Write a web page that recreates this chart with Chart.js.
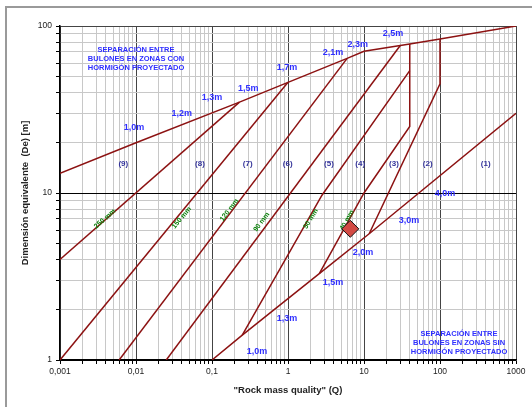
<!DOCTYPE html>
<html lang="es">
<head>
<meta charset="UTF-8">
<title>Sostenimiento - sistema Q</title>
<script src="https://cdn.jsdelivr.net/npm/chart.js"></script>
<style>
  html, body { margin: 0; padding: 0; background: #fff; }
  canvas { display: block; }
</style>
</head>
<body>
<canvas id="qChart" width="532" height="407"></canvas>
<script>
// axis ticks
const xDecades = [0.001, 0.01, 0.1, 1, 10, 100, 1000];
const xTickLabels = ['0,001', '0,01', '0,1', '1', '10', '100', '1000'];
const yDecades = [1, 10, 100];
const yTickLabels = ['1', '10', '100'];

// bolt spacing line, areas with shotcrete
const upperQ = [0.001, 0.01, 0.23, 1, 6, 10, 40, 100, 1000];
const upperDe = [13.1, 20, 35, 46, 64, 70.6, 78, 83.6, 100];
// bolt spacing line, areas without shotcrete
const lowerQ = [0.1, 0.25, 2.58, 11.7, 1000];
const lowerDe = [1, 1.41, 3.29, 5.7, 30];

// category boundaries
const line250Q = [0.001, 0.23];
const line250De = [4, 35];
const line150Q = [0.001, 1];
const line150De = [1, 46];
const line120Q = [0.006, 6];
const line120De = [1, 64];
const line90Q = [0.025, 30];
const line90De = [1, 76.4];
const line50Q = [0.25, 2.8, 40];
const line50De = [1.41, 9.7, 54];
const line40Q = [2.58, 10, 40, 40];
const line40De = [3.29, 10, 25, 78];
const line2Q = [11.7, 100, 100];
const line2De = [5.7, 45, 83.6];

// case plotted
const caseQ = [6.6];
const caseDe = [6.1];

// labels
const withShotLabels = ['1,0m', '1,2m', '1,3m', '1,5m', '1,7m', '2,1m', '2,3m', '2,5m'];
const withShotQ = [0.0094, 0.040, 0.1, 0.30, 0.97, 3.9, 8.3, 24];
const withShotDe = [24.7, 30, 37.4, 42.4, 56.6, 69.6, 77.2, 89.8];
const noShotLabels = ['1,0m', '1,3m', '1,5m', '2,0m', '3,0m', '4,0m'];
const noShotQ = [0.39, 0.97, 3.9, 9.7, 39, 116];
const noShotDe = [1.117, 1.77, 2.93, 4.43, 6.87, 9.92];
const categoryLabels = ['(9)', '(8)', '(7)', '(6)', '(5)', '(4)', '(3)', '(2)', '(1)'];
const categoryQ = [0.0068, 0.0695, 0.295, 0.99, 3.46, 8.9, 24.8, 69, 399];
const categoryDe = 15;
const thicknessLabels = ['250 mm', '150 mm', '120 mm', '90 mm', '50 mm', '40 mm'];
const thicknessQ = [0.0039, 0.040, 0.169, 0.45, 2.0, 5.97];
const thicknessDe = [7.0, 7.1, 7.9, 6.7, 7.0, 6.87];
const thicknessAngle = [-41, -50, -53, -53, -59, -61];
const boxWithLines = ['SEPARACIÓN ENTRE', 'BULONES EN ZONAS CON', 'HORMIGÓN PROYECTADO'];
const boxWithAt = [0.01, 63.8];
const boxWithoutLines = ['SEPARACIÓN ENTRE', 'BULONES EN ZONAS SIN', 'HORMIGÓN PROYECTADO'];
const boxWithoutAt = [178, 1.27];

const FONT = "'Liberation Sans', Arial, sans-serif";
const lineColor = '#8c1212';

const toPts = (qs, des) => qs.map((q, i) => ({ x: q, y: des[i] }));

function lineSet(qs, des) {
    return {
        data: toPts(qs, des),
        showLine: true,
        borderColor: lineColor,
        borderWidth: 1.5,
        pointRadius: 0,
        fill: false
    };
}

function logTicks(min, max) {
    const ticks = [];
    for (let e = Math.log10(min); e < Math.log10(max) - 0.01; e++) {
        const d = Math.pow(10, e);
        for (let m = 1; m < 10; m++) ticks.push({ value: +(d * m).toPrecision(6) });
    }
    ticks.push({ value: max });
    return ticks;
}

function decadeIndex(v, list) {
    return list.findIndex(d => Math.abs(v / d - 1) < 1e-6);
}

// page frame
const framePlugin = {
    id: 'frame',
    beforeDraw(chart) {
        const ctx = chart.ctx;
        ctx.save();
        ctx.fillStyle = '#fff';
        ctx.fillRect(0, 0, chart.width, chart.height);
        ctx.strokeStyle = '#9a9a9a';
        ctx.lineWidth = 2;
        ctx.beginPath();
        ctx.moveTo(6, chart.height);
        ctx.lineTo(6, 7);
        ctx.lineTo(chart.width, 7);
        ctx.stroke();
        ctx.restore();
    }
};

// texts drawn after the lines, before the case marker
const textPlugin = {
    id: 'qText',
    afterDatasetDraw(chart, args) {
        if (args.index !== 1) return;
        const { ctx, scales: { x, y } } = chart;
        ctx.save();
        ctx.textAlign = 'center';
        ctx.textBaseline = 'middle';

        ctx.fillStyle = '#2f2fff';
        ctx.font = 'bold 9px ' + FONT;
        withShotLabels.forEach((t, i) => ctx.fillText(t, x.getPixelForValue(withShotQ[i]), y.getPixelForValue(withShotDe[i])));
        noShotLabels.forEach((t, i) => ctx.fillText(t, x.getPixelForValue(noShotQ[i]), y.getPixelForValue(noShotDe[i])));

        ctx.font = 'bold 7.5px ' + FONT;
        boxWithLines.forEach((t, i) => ctx.fillText(t, x.getPixelForValue(boxWithAt[0]), y.getPixelForValue(boxWithAt[1]) + (i - 1) * 9));
        boxWithoutLines.forEach((t, i) => ctx.fillText(t, x.getPixelForValue(boxWithoutAt[0]), y.getPixelForValue(boxWithoutAt[1]) + (i - 1) * 9));

        ctx.fillStyle = '#33339a';
        ctx.font = 'bold 8px ' + FONT;
        categoryLabels.forEach((t, i) => ctx.fillText(t, x.getPixelForValue(categoryQ[i]), y.getPixelForValue(categoryDe)));

        ctx.fillStyle = '#0a800a';
        ctx.font = 'bold 7px ' + FONT;
        thicknessLabels.forEach((t, i) => {
            ctx.save();
            ctx.translate(x.getPixelForValue(thicknessQ[i]), y.getPixelForValue(thicknessDe[i]));
            ctx.rotate(thicknessAngle[i] * Math.PI / 180);
            ctx.fillText(t, 0, 0);
            ctx.restore();
        });
        ctx.restore();
    }
};

new Chart(document.getElementById('qChart'), {
    type: 'scatter',
    data: {
        datasets: [
            {
                data: toPts(caseQ, caseDe),
                pointStyle: 'rectRot',
                pointRadius: 8.5,
                backgroundColor: '#d24a44',
                borderColor: '#111',
                borderWidth: 1
            },
            lineSet(upperQ, upperDe),
            lineSet(lowerQ, lowerDe),
            lineSet(line250Q, line250De),
            lineSet(line150Q, line150De),
            lineSet(line120Q, line120De),
            lineSet(line90Q, line90De),
            lineSet(line50Q, line50De),
            lineSet(line40Q, line40De),
            lineSet(line2Q, line2De)
        ]
    },
    options: {
        responsive: false,
        animation: false,
        events: [],
        layout: { padding: { top: 26, right: 16, bottom: 0, left: 0 } },
        plugins: {
            legend: { display: false },
            tooltip: { enabled: false }
        },
        scales: {
            x: {
                type: 'logarithmic',
                min: 0.001,
                max: 1000,
                afterBuildTicks: s => { s.ticks = logTicks(0.001, 1000); },
                afterFit: s => { s.height = 47; },
                grid: {
                    color: c => (c.tick && decadeIndex(c.tick.value, xDecades) >= 0) ? '#444' : '#c8c8c8',
                    lineWidth: 1,
                    tickLength: 4,
                    tickColor: '#000'
                },
                border: { color: '#000', width: 1.5 },
                ticks: {
                    autoSkip: false,
                    maxRotation: 0,
                    padding: 3,
                    color: '#222',
                    font: { family: FONT, size: 8.5 },
                    callback: v => { const i = decadeIndex(v, xDecades); return i >= 0 ? xTickLabels[i] : ''; }
                },
                title: {
                    display: true,
                    text: '"Rock mass quality" (Q)',
                    color: '#222',
                    font: { family: FONT, size: 9.5, weight: 'bold' },
                    padding: { top: 0, bottom: 10.5 }
                }
            },
            y: {
                type: 'logarithmic',
                min: 1,
                max: 100,
                afterBuildTicks: s => { s.ticks = logTicks(1, 100); },
                afterFit: s => { s.width = 60; },
                grid: {
                    color: c => {
                        if (!c.tick) return '#c8c8c8';
                        const i = decadeIndex(c.tick.value, yDecades);
                        return i < 0 ? '#c8c8c8' : (i === 2 ? '#444' : '#000');
                    },
                    lineWidth: 1,
                    tickLength: 4,
                    tickColor: '#000'
                },
                border: { color: '#000', width: 1.5 },
                ticks: {
                    autoSkip: false,
                    padding: 4,
                    color: '#222',
                    font: { family: FONT, size: 8.5 },
                    callback: v => { const i = decadeIndex(v, yDecades); return i >= 0 ? yTickLabels[i] : ''; }
                },
                title: {
                    display: true,
                    text: 'Dimensión equivalente  (De) [m]',
                    color: '#222',
                    font: { family: FONT, size: 9.5, weight: 'bold' },
                    padding: { top: 19.3, bottom: 0 }
                }
            }
        }
    },
    plugins: [framePlugin, textPlugin]
});
</script>
</body>
</html>
